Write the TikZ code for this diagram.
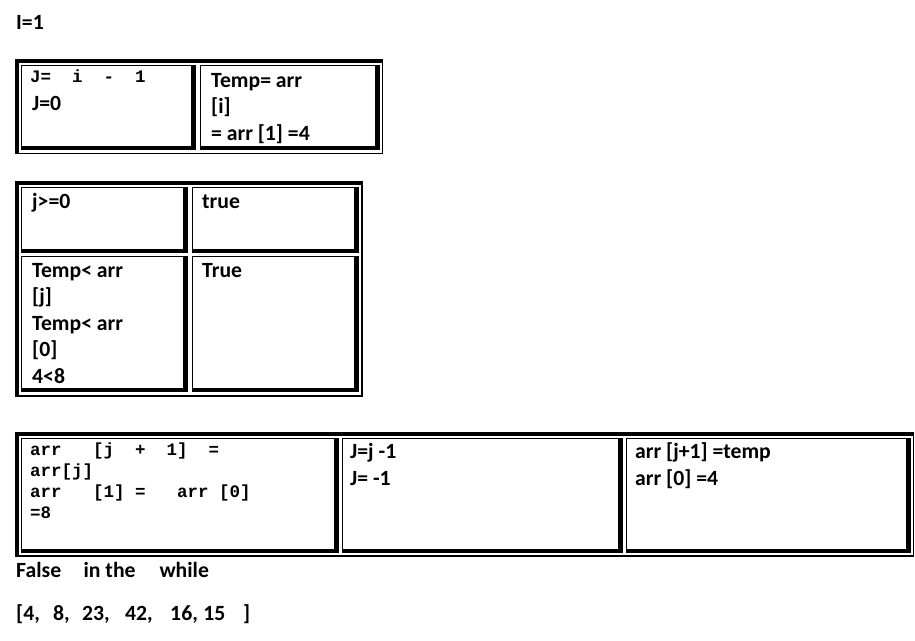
\documentclass[tikz,border=0pt]{standalone}
\usepackage{fontspec}
\setmainfont{Carlito}
\setmonofont{Liberation Mono}
\usepackage{tikz}

\begin{document}
\begin{tikzpicture}[x=1pt,y=-1pt,
    txt/.style={anchor=base west,inner sep=0pt,font=\fontsize{21.7}{26.5}\selectfont\bfseries},
    code/.style={anchor=base west,inner sep=0pt,font=\fontsize{17.5}{21}\selectfont\ttfamily\bfseries},
    rim/.style={line width=1.2pt}]
            \useasboundingbox (0,0) rectangle (915,640);

            % outer frames: heavy top and left, light bottom and right
            \foreach \xa/\ya/\xb/\yb in {15/59/382.5/153.5, 15/181/362/396, 15/432/913.5/556} {
                \fill (\xa,\ya) rectangle (\xb,\ya+4);
                \fill (\xa,\ya) rectangle (\xa+4,\yb);
                \draw[rim] (\xb,\ya) -- (\xb,\yb) -- (\xa,\yb);
            }
            % cells: light top and left, heavy bottom and right
            \foreach \xa/\ya/\xb/\yb in {21/65/196/150, 200/65/380/150,
                    21/187/188/253, 192/187/359/253, 21/256/188/392, 192/256/359/392,
                    21/438/339/553, 342/438/623/553, 626/438/911/553} {
                \draw[rim] (\xa+.5,\yb) -- (\xa+.5,\ya+.5) -- (\xb,\ya+.5);
                \fill (\xb-5,\ya) rectangle (\xb,\yb);
                \fill (\xa,\yb-4) rectangle (\xb,\yb);
            }

            \node (i) at (16,29) [txt] {I=1};

            \node (ja) at (30,82) [code] {J=\ \ i\ \ -\ \ 1};
            \node (jb) at (32,110) [txt] {J=0};
            \foreach \t [count=\k] in {Temp= arr, {[i]}, = arr [1] =4}
                \node (t\k) at (211,60.5+26.5*\k) [txt] {\t};

            \node (ca) at (32,208) [txt] {j>=0};
            \node (cb) at (202,208) [txt] {true};
            \foreach \t [count=\k] in {Temp< arr, {[j]}, Temp< arr, {[0]}, 4<8}
                \node (l\k) at (32,250.5+26.5*\k) [txt] {\t};
            \node (r) at (202,277) [txt] {True};

            \node (c1) at (30,455) [code] {arr\ \ \ [j\ \ +\ \ 1]\ \ =};
            \node (c2) at (30,476) [code] {arr[j]};
            \node (c3) at (30,497) [code] {arr\ \ \ [1]\ =\ \ \ arr\ [0]};
            \node (c4) at (30,518) [code] {=8};
            \node (d1) at (350,458) [txt] {J=j -1};
            \node (d2) at (350,485) [txt] {J= -1};
            \node (e1) at (635,458) [txt] {arr [j+1] =temp};
            \node (e2) at (635,485) [txt] {arr [0] =4};

            \node (f) at (16,577) [txt] {False\hspace{22.4pt}in the\hspace{24pt}while};
            \node (g) at (16,620) [txt] {[4,\hspace{13.4pt}8,\hspace{12.4pt}23,\hspace{15.4pt}42,\hspace{17.4pt}16,\hspace{5.4pt}15\hspace{18pt}]};

        \end{tikzpicture}
\end{document}
